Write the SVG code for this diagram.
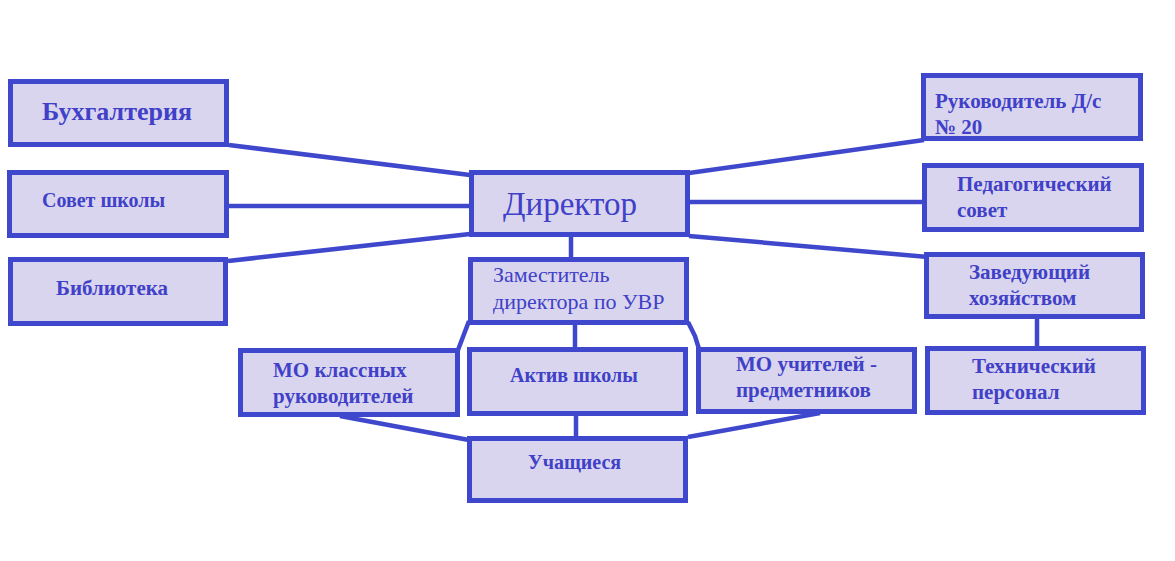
<svg xmlns="http://www.w3.org/2000/svg" width="1175" height="561" viewBox="0 0 1175 561">
<style>
.box{fill:#d9d5ee;stroke:#3f48cc;stroke-width:5}
.ln{stroke:#3f48cc;stroke-width:4.5;fill:none}
text{font-family:"Liberation Serif","DejaVu Serif",serif;fill:#4040c8;font-weight:bold;font-size:21px}
.reg{font-weight:normal;font-size:22px}
.sm{font-size:20px}
</style>
<rect width="1175" height="561" fill="#ffffff"/>
<g id="connectors">
<line class="ln" x1="229" y1="145" x2="470" y2="175"/>
<line class="ln" x1="229" y1="206" x2="470" y2="206"/>
<line class="ln" x1="228" y1="261" x2="470" y2="234"/>
<line class="ln" x1="689" y1="173" x2="924" y2="140"/>
<line class="ln" x1="689" y1="202" x2="924" y2="202"/>
<line class="ln" x1="689" y1="236" x2="928" y2="257"/>
<line class="ln" x1="571" y1="234" x2="571" y2="260"/>
<line class="ln" x1="1037" y1="317" x2="1037" y2="349"/>
<line class="ln" x1="469" y1="321" x2="458" y2="350"/>
<line class="ln" x1="575" y1="322" x2="575" y2="350"/>
<polyline class="ln" points="688,322 695,336 699,349"/>
<line class="ln" x1="340" y1="416" x2="469" y2="440"/>
<line class="ln" x1="576" y1="414" x2="576" y2="439"/>
<line class="ln" x1="820" y1="413" x2="688" y2="437"/>
</g>
<g id="buh"><rect class="box" x="10.5" y="81.5" width="216" height="63"/><text x="42" y="120" style="font-size:26px">Бухгалтерия</text></g>
<g id="sovet"><rect class="box" x="9.5" y="172.5" width="217" height="63"/><text class="sm" x="42" y="207">Совет школы</text></g>
<g id="bib"><rect class="box" x="10.5" y="259.5" width="215" height="64"/><text x="56" y="295">Библиотека</text></g>
<g id="director"><rect class="box" x="471.5" y="172.5" width="216" height="62"/><text class="reg" x="503" y="215" style="font-size:33px">Директор</text></g>
<g id="ruk"><rect class="box" x="923.5" y="75.5" width="217" height="63"/><text x="935" y="108">Руководитель Д/с</text><text x="935" y="134">№ 20</text></g>
<g id="ped"><rect class="box" x="924.5" y="165.5" width="217" height="64"/><text x="957" y="191">Педагогический</text><text x="957" y="217">совет</text></g>
<g id="zav"><rect class="box" x="926.5" y="254.5" width="216" height="62"/><text x="969" y="279">Заведующий</text><text x="969" y="305">хозяйством</text></g>
<g id="zam"><rect class="box" x="470.5" y="259.5" width="216" height="63"/><text class="reg" x="493" y="282">Заместитель</text><text class="reg" x="493" y="309">директора по УВР</text></g>
<g id="mok"><rect class="box" x="240.5" y="350.5" width="217" height="64"/><text x="273" y="377">МО классных</text><text x="273" y="403">руководителей</text></g>
<g id="aktiv"><rect class="box" x="469.5" y="349.5" width="216" height="64"/><text class="sm" x="510" y="382">Актив школы</text></g>
<g id="mou"><rect class="box" x="698.5" y="349.5" width="216" height="62"/><text x="736" y="371">МО учителей -</text><text x="736" y="397">предметников</text></g>
<g id="tech"><rect class="box" x="927.5" y="348.5" width="216" height="64"/><text x="972" y="373">Технический</text><text x="972" y="399">персонал</text></g>
<g id="uch"><rect class="box" x="469.5" y="438.5" width="216" height="62"/><text class="sm" x="528" y="469">Учащиеся</text></g>
</svg>
